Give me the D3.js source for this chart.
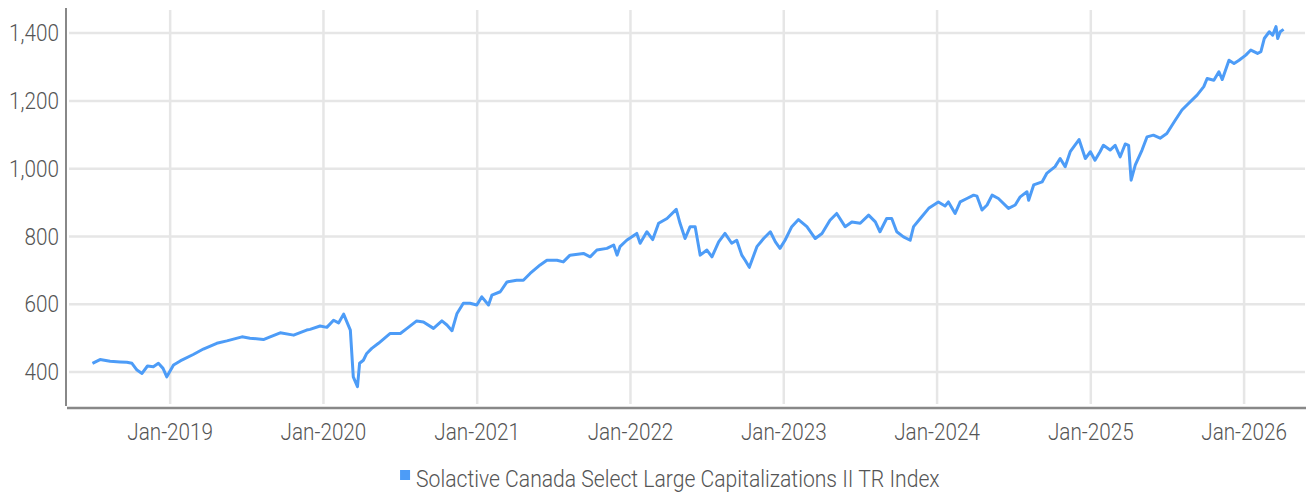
<!DOCTYPE html>
<html>
<head>
<meta charset="utf-8">
<script src="https://cdn.jsdelivr.net/npm/d3@7"></script>
<style>
  html, body { margin: 0; padding: 0; background: #fff; }
  svg { display: block; font-family: Roboto, "DejaVu Sans Condensed", sans-serif; font-weight: 300; }
  .grid line { stroke: #e6e6e6; stroke-width: 2.5; }
  .tick-label { fill: #555; font-size: 23px; }
  .legend-label { fill: #555; font-size: 23.5px; }
</style>
</head>
<body>
<div id="chart"></div>
<script>
// series
const dates = [
  '2018-06-30','2018-07-18','2018-08-11','2018-09-04','2018-09-20','2018-10-02','2018-10-14','2018-10-26',
  '2018-11-08','2018-11-22','2018-12-04','2018-12-15','2018-12-24','2019-01-09','2019-01-25','2019-02-25',
  '2019-03-21','2019-04-22','2019-05-16','2019-06-21','2019-07-10','2019-08-11','2019-08-27','2019-09-20',
  '2019-10-22','2019-11-22','2019-11-30','2019-12-24','2020-01-09','2020-01-25','2020-02-06','2020-02-18',
  '2020-03-05','2020-03-12','2020-03-22','2020-03-27','2020-04-05','2020-04-13','2020-04-25','2020-05-11',
  '2020-06-08','2020-07-02','2020-07-18','2020-08-10','2020-08-26','2020-09-19','2020-10-09','2020-10-21',
  '2020-11-02','2020-11-14','2020-11-29','2020-12-15','2020-12-31','2021-01-12','2021-01-28','2021-02-05',
  '2021-02-25','2021-03-13','2021-04-05','2021-04-21','2021-05-07','2021-05-31','2021-06-16','2021-07-10',
  '2021-07-25','2021-08-10','2021-09-11','2021-09-27','2021-10-13','2021-11-06','2021-11-22','2021-11-30',
  '2021-12-07','2021-12-23','2022-01-16','2022-01-24','2022-02-09','2022-02-23','2022-03-09','2022-03-29',
  '2022-04-20','2022-04-29','2022-05-11','2022-05-23','2022-06-04','2022-06-16','2022-07-02','2022-07-14',
  '2022-07-30','2022-08-14','2022-08-30','2022-09-11','2022-09-23','2022-10-01','2022-10-11','2022-10-29',
  '2022-11-14','2022-11-30','2022-12-12','2022-12-23','2023-01-04','2023-01-20','2023-02-05','2023-02-25',
  '2023-03-17','2023-04-02','2023-04-21','2023-05-07','2023-05-27','2023-06-12','2023-07-02','2023-07-22',
  '2023-08-07','2023-08-18','2023-09-03','2023-09-15','2023-09-27','2023-10-13','2023-10-29','2023-11-06',
  '2023-11-22','2023-12-12','2024-01-04','2024-01-20','2024-01-28','2024-02-13','2024-02-25','2024-03-12',
  '2024-03-28','2024-04-05','2024-04-17','2024-04-29','2024-05-11','2024-05-26','2024-06-19','2024-07-05',
  '2024-07-17','2024-08-02','2024-08-06','2024-08-18','2024-09-07','2024-09-18','2024-10-08','2024-10-20',
  '2024-11-01','2024-11-13','2024-12-04','2024-12-19','2024-12-31','2025-01-11','2025-01-23','2025-01-31',
  '2025-02-16','2025-02-28','2025-03-12','2025-03-24','2025-04-01','2025-04-07','2025-04-17','2025-05-03',
  '2025-05-15','2025-05-30','2025-06-15','2025-07-01','2025-07-21','2025-08-06','2025-08-18','2025-09-11',
  '2025-09-27','2025-10-05','2025-10-21','2025-11-02','2025-11-10','2025-11-26','2025-12-08','2025-12-20',
  '2026-01-05','2026-01-17','2026-02-02','2026-02-10','2026-02-18','2026-03-02','2026-03-10','2026-03-18',
  '2026-03-22','2026-03-28','2026-04-05'
];
const values = [
  426, 437, 432, 430, 429, 426, 406, 396,
  418, 416, 426, 411, 386, 421, 433, 452,
  468, 485, 492, 504, 500, 496, 504, 516,
  509, 524, 526, 536, 532, 553, 545, 571,
  524, 386, 357, 426, 435, 455, 470, 485,
  514, 514, 529, 551, 548, 529, 551, 539,
  522, 573, 603, 603, 598, 622, 598, 627,
  637, 666, 671, 671, 691, 716, 730, 730,
  725, 745, 750, 740, 760, 765, 775, 745,
  770, 789, 809, 780, 814, 791, 839, 853,
  880, 839, 794, 829, 829, 745, 760, 740,
  784, 809, 780, 789, 745, 730, 709, 770,
  794, 814, 784, 765, 789, 829, 850, 829,
  794, 809, 848, 868, 829, 843, 839, 863,
  843, 814, 853, 853, 814, 799, 789, 829,
  853, 883, 902, 890, 902, 868, 902, 912,
  922, 919, 878, 893, 922, 912, 883, 893,
  917, 932, 907, 952, 961, 986, 1006, 1030,
  1006, 1050, 1086, 1030, 1050, 1025, 1050, 1069,
  1055, 1069, 1035, 1073, 1069, 966, 1011, 1055,
  1094, 1099, 1090, 1104, 1143, 1173, 1188, 1217,
  1242, 1266, 1261, 1286, 1263, 1320, 1310, 1320,
  1335, 1350, 1340, 1345, 1384, 1404, 1394, 1419,
  1384, 1404, 1411
];
const seriesName = 'Solactive Canada Select Large Capitalizations II TR Index';
const yTicks = [400, 600, 800, 1000, 1200, 1400];
const xTicks = ['2019-01-01','2020-01-01','2021-01-01','2022-01-01','2023-01-01','2024-01-01','2025-01-01','2026-01-01'];

const W = 1306, H = 493;
const margin = { left: 66, right: 1, top: 8, bottom: 87 };
const lineColor = '#4d9cf7';
const squeeze = 0.9; // condensed look for the label font

const parse = d3.timeParse('%Y-%m-%d');
const data = dates.map((d, i) => ({ date: parse(d), value: values[i] }));

const svg = d3.select('#chart').append('svg')
  .attr('width', W).attr('height', H);

const x = d3.scaleTime()
  .domain([parse('2018-04-28'), parse('2026-05-26')])
  .range([margin.left, W - margin.right]);
const y = d3.scaleLinear()
  .domain([300, 1474])
  .range([H - margin.bottom, margin.top]);

// grid
const grid = svg.append('g').attr('class', 'grid');
grid.selectAll('.hg').data(yTicks).join('line')
  .attr('x1', margin.left + 3).attr('x2', W - margin.right)
  .attr('y1', d => y(d)).attr('y2', d => y(d));
grid.selectAll('.vg').data(xTicks.map(parse)).join('line')
  .attr('x1', d => x(d)).attr('x2', d => x(d))
  .attr('y1', margin.top + 2).attr('y2', H - margin.bottom - 2);

// axis lines
svg.append('line')
  .attr('x1', margin.left).attr('x2', margin.left)
  .attr('y1', margin.top).attr('y2', H - margin.bottom)
  .attr('stroke', '#888').attr('stroke-width', 2);
svg.append('line')
  .attr('x1', margin.left + 1).attr('x2', W)
  .attr('y1', H - margin.bottom + 2).attr('y2', H - margin.bottom + 2)
  .attr('stroke', '#888').attr('stroke-width', 2.5);

// tick labels
const fmt = d3.format(',');
svg.selectAll('.ylab').data(yTicks).join('text')
  .attr('class', 'tick-label')
  .attr('transform', d => `translate(${margin.left - 7},${y(d)}) scale(${squeeze},1)`)
  .attr('dy', '0.35em')
  .attr('text-anchor', 'end')
  .text(d => fmt(d));

const xfmt = d3.timeFormat('%b-%Y');
svg.selectAll('.xlab').data(xTicks.map(parse)).join('text')
  .attr('class', 'tick-label')
  .attr('transform', d => `translate(${x(d)},${H - margin.bottom + 34}) scale(${squeeze},1)`)
  .attr('text-anchor', 'middle')
  .text(d => xfmt(d));

// line
const line = d3.line()
  .x(d => x(d.date))
  .y(d => y(d.value));
svg.append('path')
  .datum(data)
  .attr('fill', 'none')
  .attr('stroke', lineColor)
  .attr('stroke-width', 3)
  .attr('stroke-linejoin', 'round')
  .attr('d', line);

// legend, centred under the plot
const legend = svg.append('g');
const legText = legend.append('text')
  .attr('class', 'legend-label')
  .text(seriesName);
const tw = legText.node().getComputedTextLength() * squeeze;
const lx = W / 2 - (tw + 16) / 2 + 17;
legend.append('rect')
  .attr('x', lx).attr('y', 470)
  .attr('width', 10).attr('height', 10)
  .attr('fill', lineColor);
legText.attr('transform', `translate(${lx + 16},487) scale(${squeeze},1)`);
</script>
</body>
</html>
